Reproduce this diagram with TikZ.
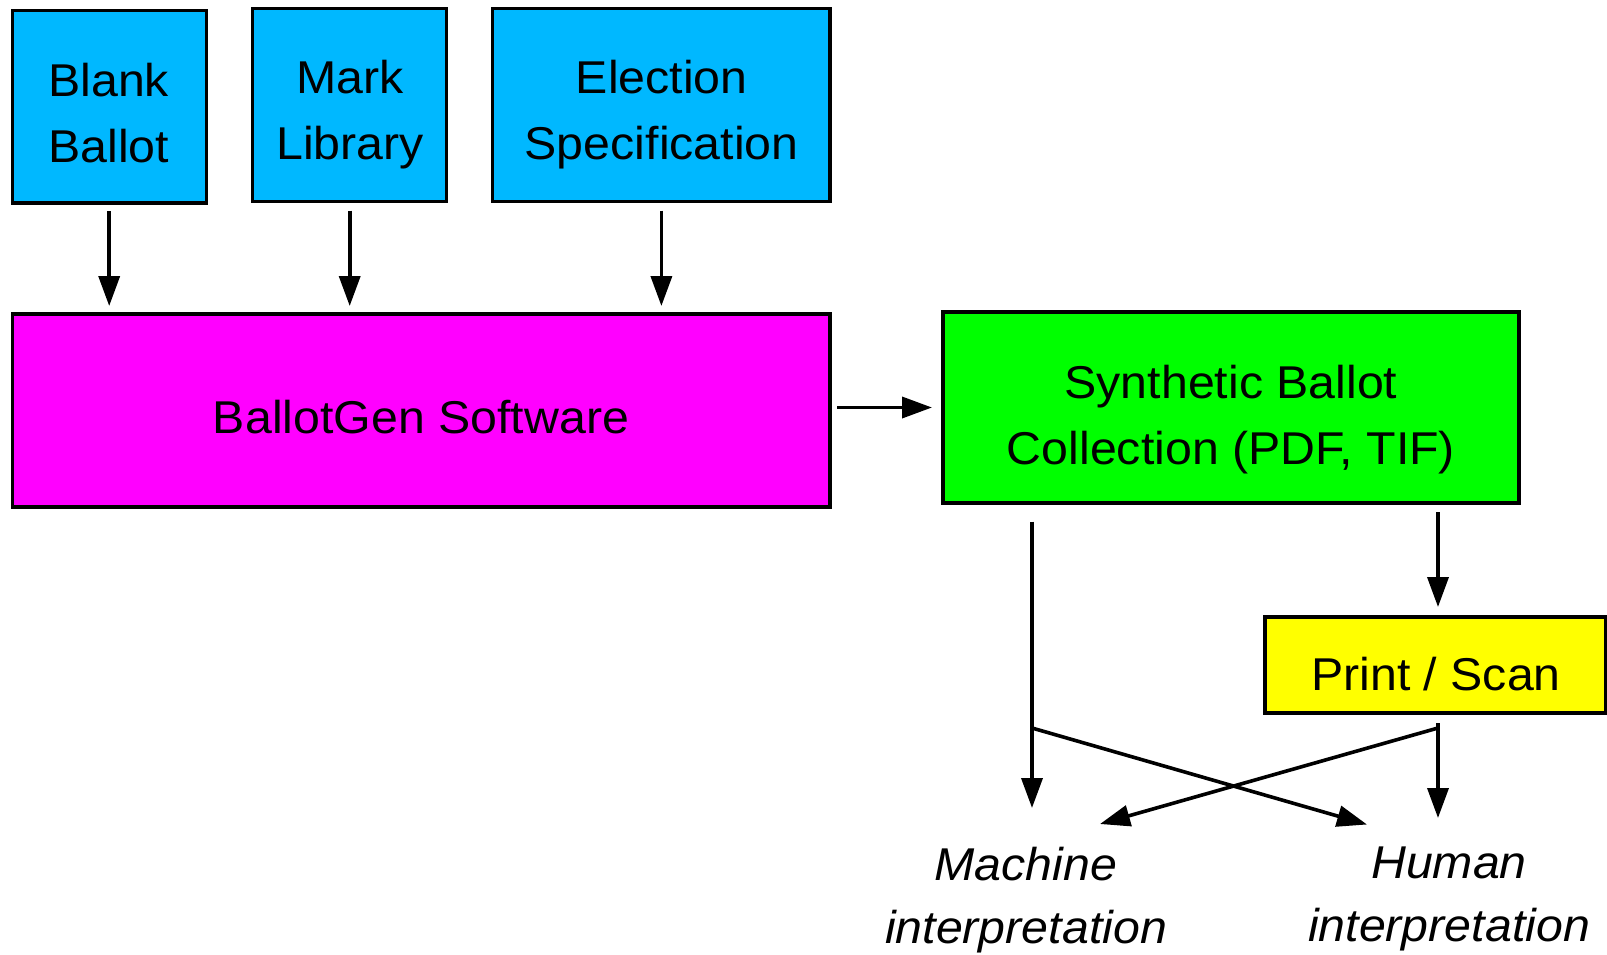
\documentclass[tikz,border=0pt]{standalone}
\usepackage{fontspec}
\setmainfont{Liberation Sans}[FakeStretch=1.05]
\usetikzlibrary{arrows.meta}
\definecolor{boxblue}{RGB}{0,184,255}
\definecolor{boxmag}{RGB}{255,0,255}
\definecolor{boxgreen}{RGB}{0,255,0}
\definecolor{boxyellow}{RGB}{255,255,0}
\begin{document}
\begin{tikzpicture}[x=1pt,y=-1pt,
  box/.style={draw=black, line width=3.2pt, rectangle, inner sep=0pt, outer sep=0pt},
  lbl/.style={inner sep=0pt, outer sep=0pt, anchor=north, align=center, font=\fontsize{46}{66}\selectfont},
  ital/.style={inner sep=0pt, outer sep=0pt, anchor=north, align=center, font=\fontsize{46}{63.5}\selectfont\itshape},
  arr/.style={line width=3.6pt, -{Triangle[length=30pt,width=21pt]}}]
\useasboundingbox (0,0) rectangle (1607,954);
% boxes
\node[box, fill=boxblue, minimum width=194pt, minimum height=192.5pt] (blank) at (109.2,106.8) {};
\node[box, fill=boxblue, minimum width=194pt, minimum height=193.4pt] (mark) at (349.7,105) {};
\node[box, fill=boxblue, minimum width=337.3pt, minimum height=193.4pt] (elec) at (661.4,105) {};
\node[box, fill=boxmag, minimum width=817.7pt, minimum height=193pt] (gen) at (421.2,410.5) {};
\node[box, fill=boxgreen, minimum width=576pt, minimum height=191pt] (synth) at (1231,407.5) {};
\node[box, fill=boxyellow, minimum width=341pt, minimum height=96pt] (print) at (1435.5,665) {};
% texts
\node[lbl] (blankT) at (108.7,63) {Blank\\Ballot};
\node[lbl] (markT) at (350,60) {Mark\\Library};
\node[lbl] (elecT) at (661.7,60) {Election\\Specification};
\node[lbl] (genT) at (421,400) {BallotGen Software};
\node[lbl] (synthT) at (1231,365) {Synthetic Ballot\\Collection (PDF, TIF)};
\node[lbl] (printT) at (1436,657) {Print / Scan};
\node[ital] (machine) at (1026,846.7) {Machine\\interpretation};
\node[ital] (human) at (1449,846.7) {Human\\interpretation};
% junctions and tips
\coordinate (mj) at (1032,728);
\coordinate (pj) at (1438,728);
\coordinate (mtip) at (1100,824);
\coordinate (htip) at (1367,824.5);
% connectors
\draw[arr, shorten <=8pt, shorten >=8pt] (blank.south) -- (blank.south |- gen.north);
\draw[arr, shorten <=9pt, shorten >=8pt] (mark.south) -- (mark.south |- gen.north);
\draw[arr, shorten <=9pt, shorten >=8pt] (elec.south) -- (elec.south |- gen.north);
\draw[arr, shorten <=7pt, shorten >=11pt] (gen.east |- synth.west) -- (synth.west);
\draw[arr, shorten <=18.6pt, shorten >=38.7pt] (synth.south -| mj) -- (machine.north -| mj);
\draw[arr, shorten <=9pt, shorten >=10pt] (synth.south -| pj) -- (print.north -| pj);
\draw[arr, shorten <=10pt, shorten >=28.7pt] (print.south -| pj) -- (human.north -| pj);
\draw[arr] (mj) -- (htip);
\draw[arr] (pj) -- (mtip);
\end{tikzpicture}
\end{document}
